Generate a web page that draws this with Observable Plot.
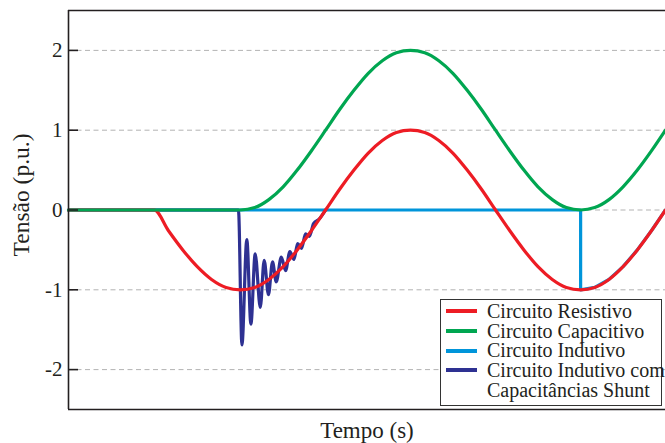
<!DOCTYPE html>
<html>
<head>
<meta charset="utf-8">
<script src="https://cdn.jsdelivr.net/npm/d3@7"></script>
<script src="https://cdn.jsdelivr.net/npm/@observablehq/plot@0.6"></script>
<style>
  html, body { margin: 0; padding: 0; background: #fff; }
  #wrap { position: relative; width: 665px; height: 443px; overflow: hidden; font-family: "Liberation Serif", "Times New Roman", serif; color: #231f20; }
  #legend { position: absolute; left: 440px; top: 299px; width: 222px; height: 107px; box-sizing: border-box; border: 1px solid #333; background: #fff; }
  .sw { position: absolute; left: 5px; width: 31px; height: 4px; }
  .lt { position: absolute; left: 46px; font-size: 20px; line-height: 19px; white-space: nowrap; }
</style>
</head>
<body>
<div id="wrap"></div>
<script>
// time axis (ms) shared by the resistive and capacitive curves
const tGrid = [0, 4.20, 4.90, 5.60, 6.31, 7.01, 7.72, 8.43, 9.13, 9.82, 10.52, 11.21, 11.90, 12.60, 13.29, 13.99, 14.68, 15.38, 16.07, 16.76, 17.46, 18.15, 18.85, 19.54, 20.24, 20.93, 21.63, 22.32, 23.01, 23.71, 24.40, 25.10, 25.79, 26.49, 27.18, 27.88, 28.57, 29.26];
const resistivo = [0, 0, -0.26, -0.50, -0.71, -0.87, -0.97, -1.00, -0.97, -0.87, -0.71, -0.50, -0.26, 0, 0.26, 0.50, 0.71, 0.87, 0.97, 1.00, 0.97, 0.87, 0.71, 0.50, 0.26, 0, -0.26, -0.50, -0.71, -0.87, -0.97, -1.00, -0.97, -0.87, -0.71, -0.50, -0.26, 0];
const capacitivo = [0, 0, 0, 0, 0, 0, 0, 0, 0.03, 0.13, 0.29, 0.50, 0.74, 1.00, 1.26, 1.50, 1.71, 1.87, 1.97, 2.00, 1.97, 1.87, 1.71, 1.50, 1.26, 1.00, 0.74, 0.50, 0.29, 0.13, 0.03, 0, 0.03, 0.13, 0.29, 0.50, 0.74, 1.00];
const indutivoT = [0, 25.10, 25.10, 25.79, 26.49, 27.18, 27.88, 28.57, 29.26];
const indutivo = [0, 0, -1.00, -0.97, -0.87, -0.71, -0.50, -0.26, 0];
const shuntT = [0, 8.33, 8.50, 8.74, 8.94, 9.15, 9.40, 9.59, 9.80, 10.00, 10.18, 10.43, 10.64, 10.85, 11.05, 11.23, 11.42, 11.62, 11.81, 12.01, 12.30, 12.60];
const shunt = [0, 0, -1.69, -0.37, -1.43, -0.55, -1.22, -0.63, -1.06, -0.65, -0.90, -0.59, -0.76, -0.52, -0.62, -0.42, -0.48, -0.30, -0.33, -0.17, -0.11, 0];
const yTicks = [-2, -1, 0, 1, 2];
const xDomain = [0, 29.26];
const yDomain = [-2.5, 2.5];

const seriesNames = ["Circuito Resistivo", "Circuito Capacitivo", "Circuito Indutivo", "Circuito Indutivo com\nCapacitâncias Shunt"];
const seriesColors = ["#ed1c24", "#00a651", "#0095da", "#2e3192"];

const toRows = (ts, vs) => ts.map((t, i) => ({t, v: vs[i]}));
const red = toRows(tGrid, resistivo);
const green = toRows(tGrid, capacitivo);
const blue = toRows(indutivoT, indutivo);
const navy = toRows(shuntT, shunt);

const ink = "#231f20";
const lw = 3.2;

const chart = Plot.plot({
  width: 665,
  height: 443,
  marginLeft: 68,
  marginRight: 0,
  marginTop: 10,
  marginBottom: 34,
  style: {fontFamily: "'Liberation Serif', 'Times New Roman', serif", color: ink, background: "#fff"},
  x: {domain: xDomain, axis: null},
  y: {domain: yDomain, axis: null},
  marks: [
    Plot.ruleY(yTicks, {stroke: "#b3b3b3", strokeWidth: 1, strokeDasharray: "5,3.5"}),
    Plot.line(blue, {x: "t", y: "v", stroke: seriesColors[2], strokeWidth: lw, curve: "linear"}),
    Plot.line(navy, {x: "t", y: "v", stroke: seriesColors[3], strokeWidth: lw, curve: "monotone-x"}),
    Plot.line(red, {x: "t", y: "v", stroke: seriesColors[0], strokeWidth: lw, curve: "monotone-x"}),
    Plot.line(green, {x: "t", y: "v", stroke: seriesColors[1], strokeWidth: lw, curve: "monotone-x"}),
    Plot.tickY(yTicks, {y: d => d, stroke: ink, strokeWidth: 1.6, insetRight: 587}),
    Plot.ruleX([xDomain[0]], {stroke: ink, strokeWidth: 1.6}),
    Plot.ruleY([yDomain[0], yDomain[1]], {stroke: ink, strokeWidth: 1.6}),
    Plot.axisY(yTicks, {tickSize: 0, tickPadding: 6, fontSize: 21, tickFormat: d => String(d), label: null}),
    Plot.text(["Tensão (p.u.)"], {frameAnchor: "left", dx: -47, dy: -15, rotate: -90, fontSize: 23.5, lineAnchor: "middle", textAnchor: "middle", fill: ink}),
    Plot.text(["Tempo (s)"], {frameAnchor: "bottom", dy: 21, fontSize: 23, lineAnchor: "middle", textAnchor: "middle", fill: ink})
  ]
});

const wrap = document.getElementById("wrap");
wrap.appendChild(chart);

// legend overlay
const legend = document.createElement("div");
legend.id = "legend";
const swTops = [12.3, 32.0, 51.7, 71.4];
const baselines = [19.3, 39.0, 58.7, 78.4, 98.1];
const lines = [];
seriesNames.forEach((name, i) => {
  const sw = document.createElement("div");
  sw.className = "sw";
  sw.style.top = (swTops[i] - 1 - 2) + "px";
  sw.style.background = seriesColors[i];
  legend.appendChild(sw);
  name.split("\n").forEach(l => lines.push(l));
});
lines.forEach((l, j) => {
  const t = document.createElement("div");
  t.className = "lt";
  t.style.top = (baselines[j] - 1 - 16.25) + "px";
  t.textContent = l;
  legend.appendChild(t);
});
wrap.appendChild(legend);
</script>
</body>
</html>
